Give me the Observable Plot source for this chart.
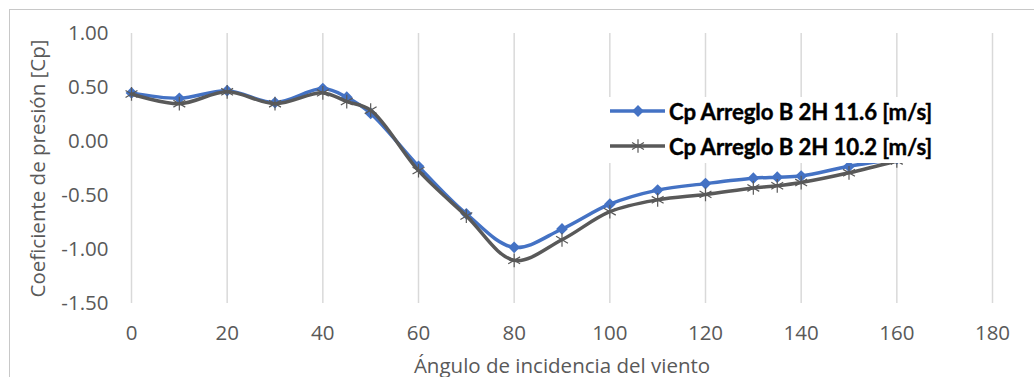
<!DOCTYPE html>
<html>
<head>
<meta charset="utf-8">
<script src="https://cdn.jsdelivr.net/npm/d3@7"></script>
<script src="https://cdn.jsdelivr.net/npm/@observablehq/plot@0.6"></script>
<style>
  html, body { margin: 0; padding: 0; background: #fff; }
  #wrap { position: relative; width: 1034px; height: 377px; overflow: hidden; }
  #frame { position: absolute; left: 9px; top: 9px; width: 1100px; height: 400px; border: 1px solid #c8c8c8; box-sizing: border-box; }
  #chart { position: absolute; left: 0; top: 0; }
  #legend { position: absolute; left: 604px; top: 97px; width: 342px; height: 66px; background: #fff;
            font-family: "Lato", "Liberation Sans Narrow", sans-serif; font-weight: bold;
            font-size: 22.2px; color: #000; -webkit-text-stroke: 0.4px #000; letter-spacing: -0.1px; }
  .row { position: absolute; left: 4px; height: 30px; display: flex; align-items: center; white-space: nowrap; }
  .row svg { margin-right: 3px; flex: none; }
</style>
</head>
<body>
<div id="wrap">
  <div id="frame"></div>
  <div id="chart"></div>
  <div id="legend"></div>
</div>
<script>
const angles = [0, 10, 20, 30, 40, 45, 50, 60, 70, 80, 90, 100, 110, 120, 130, 135, 140, 150, 160];
const cp116 = [0.45, 0.40, 0.47, 0.36, 0.49, 0.41, 0.26, -0.23, -0.67, -0.98, -0.81, -0.58, -0.45, -0.39, -0.34, -0.33, -0.32, -0.23, -0.16];
const cp102 = [0.44, 0.35, 0.46, 0.35, 0.45, 0.37, 0.29, -0.27, -0.69, -1.10, -0.91, -0.65, -0.54, -0.49, -0.43, -0.41, -0.38, -0.29, -0.18];
const seriesNames = ["Cp Arreglo B 2H 11.6 [m/s]", "Cp Arreglo B 2H 10.2 [m/s]"];
const xTicks = [0, 20, 40, 60, 80, 100, 120, 140, 160, 180];
const yTicks = [1.0, 0.5, 0.0, -0.5, -1.0, -1.5];
const blue = "#4472C4", gray = "#595959";

const d116 = angles.map((a, i) => ({a, v: cp116[i]}));
const d102 = angles.map((a, i) => ({a, v: cp102[i]}));

const chart = Plot.plot({
  width: 1034,
  height: 377,
  marginTop: 33,
  marginBottom: 74,
  marginLeft: 131,
  marginRight: 42,
  style: {fontFamily: "'Open Sans', sans-serif", fontSize: "20.5px", color: "#595959", background: "transparent"},
  x: {domain: [0, 180]},
  y: {domain: [-1.5, 1]},
  marks: [
    Plot.gridX(xTicks, {stroke: "#d9d9d9", strokeOpacity: 1, strokeWidth: 1.5}),
    Plot.axisX({ticks: xTicks, tickSize: 0, tickPadding: 22, label: "Ángulo de incidencia del viento", labelAnchor: "center", labelOffset: 69, labelArrow: "none", fontSize: 20.5}),
    Plot.axisY({ticks: yTicks, tickSize: 0, tickPadding: 23, tickFormat: d => d3.format(".2f")(d).replace("−", "-"), label: "Coeficiente de presión [Cp]", labelAnchor: "center", labelOffset: 101, labelArrow: "none", fontSize: 20.5}),
    Plot.line(d116, {x: "a", y: "v", stroke: blue, strokeWidth: 3.5, curve: "catmull-rom"}),
    Plot.dot(d116, {x: "a", y: "v", symbol: "diamond2", fill: blue, r: 5.3}),
    Plot.line(d102, {x: "a", y: "v", stroke: gray, strokeWidth: 3.5, curve: "catmull-rom"}),
    Plot.dot(d102, {x: "a", y: "v", symbol: "asterisk", stroke: gray, strokeWidth: 1.2, r: 6.5})
  ]
});
document.getElementById("chart").appendChild(chart);

// Legend
const legend = d3.select("#legend");
const items = [
  {name: seriesNames[0], color: blue, sym: d3.symbolDiamond2, size: Math.PI * 5.3 * 5.3, fill: true, top: -1},
  {name: seriesNames[1], color: gray, sym: d3.symbolAsterisk, size: Math.PI * 6.5 * 6.5, fill: false, top: 34}
];
items.forEach(it => {
  const row = legend.append("div").attr("class", "row").style("top", it.top + "px");
  const s = row.append("svg").attr("width", 58).attr("height", 30);
  s.append("line").attr("x1", 2).attr("x2", 57).attr("y1", 15).attr("y2", 15).attr("stroke", it.color).attr("stroke-width", 3.5);
  s.append("path").attr("transform", "translate(30,15)").attr("d", d3.symbol(it.sym, it.size)())
    .attr("fill", it.fill ? it.color : "none").attr("stroke", it.fill ? "none" : it.color).attr("stroke-width", 1.2);
  row.append("span").text(it.name);
});
</script>
</body>
</html>
